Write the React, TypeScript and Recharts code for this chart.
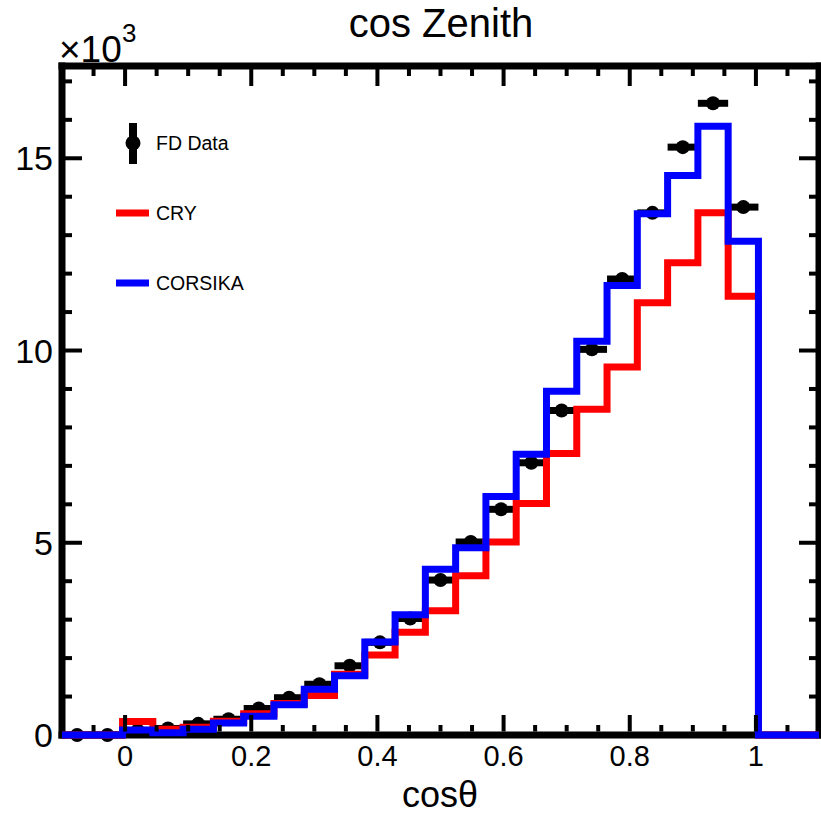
import {
  ComposedChart,
  Line,
  Scatter,
  XAxis,
  YAxis,
  ErrorBar,
  Legend,
} from "recharts";

const FONT = "'Liberation Sans', Arial, Helvetica, sans-serif";

// histogram binning: 25 bins over [-0.1, 1.1]
const X_MIN = -0.1;
const X_MAX = 1.1;
const N_BINS = 25;
const BIN_WIDTH = (X_MAX - X_MIN) / N_BINS;
const Y_MAX = 17400;

// entries per bin (null = empty bin, no marker)
const fdData = [
  0, 0, 120, 170, 290, 410, 690, 970, 1320, 1800, 2410, 3030, 4030, 5020,
  5870, 7080, 8440, 10030, 11860, 13580, 15290, 16430, 13730, null, null,
];
const cry = [
  0, 0, 350, 150, 200, 360, 550, 820, 1030, 1580, 2080, 2670, 3230, 4140,
  5020, 6020, 7320, 8470, 9570, 11240, 12280, 13580, 11410, 0, 0,
];
const corsika = [
  0, 0, 130, 60, 150, 310, 490, 790, 1190, 1540, 2420, 3130, 4310, 4870,
  6200, 7300, 8940, 10240, 11690, 13560, 14550, 15830, 12840, 0, 0,
];

const SERIES = {
  data: { name: "FD Data", color: "#000000" },
  cry: { name: "CRY", color: "#ff0000" },
  corsika: { name: "CORSIKA", color: "#0000ff" },
};

const xMajor = [0, 0.2, 0.4, 0.6, 0.8, 1];
const xMinor = [
  -0.05, 0.05, 0.1, 0.15, 0.25, 0.3, 0.35, 0.45, 0.5, 0.55, 0.65, 0.7, 0.75,
  0.85, 0.9, 0.95, 1.05,
];
const yMajor = [0, 5000, 10000, 15000];
const yMinor = [
  1000, 2000, 3000, 4000, 6000, 7000, 8000, 9000, 11000, 12000, 13000, 14000,
  16000, 17000,
];

const edge = (i: number) => X_MIN + i * BIN_WIDTH;

// step outline: one point per lower bin edge, plus the closing upper edge
const toSteps = (vals: number[]) => [
  ...vals.map((y, i) => ({ x: edge(i), y })),
  { x: X_MAX, y: vals[vals.length - 1] },
];

const fdPoints = fdData
  .map((y, i) => ({ x: edge(i) + BIN_WIDTH / 2, y, xErr: BIN_WIDTH / 2 }))
  .filter((p) => p.y !== null);

// frame geometry (pixels)
const W = 821;
const H = 816;
const PLOT = { left: 62, top: 66, right: 819, bottom: 735 };
const THIN = 0.01;

const frame = { stroke: "#000", strokeWidth: 7, strokeLinecap: "square" as const };

// inward ticks on all four sides
const MAJOR = 20;
const MINOR = 10;
const sx = (v: number) =>
  PLOT.left + ((v - X_MIN) / (X_MAX - X_MIN)) * (PLOT.right - PLOT.left);
const sy = (v: number) =>
  PLOT.bottom - (v / Y_MAX) * (PLOT.bottom - PLOT.top);

const xTickList = [
  ...xMajor.map((v) => ({ v, len: MAJOR })),
  ...xMinor.map((v) => ({ v, len: MINOR })),
];
// the zero tick sits on the bottom frame line
const yTickList = [
  ...yMajor.filter((v) => v > 0).map((v) => ({ v, len: MAJOR })),
  ...yMinor.map((v) => ({ v, len: MINOR })),
];

const SideTicks = () => (
  <g stroke="#000" strokeWidth={4}>
    {xTickList.map(({ v, len }) => (
      <line key={`t${v}`} x1={sx(v)} x2={sx(v)} y1={PLOT.top} y2={PLOT.top + len} />
    ))}
    {yTickList.map(({ v, len }) => (
      <g key={`y${v}`}>
        <line x1={PLOT.left} x2={PLOT.left + len} y1={sy(v)} y2={sy(v)} />
        <line x1={PLOT.right} x2={PLOT.right - len} y1={sy(v)} y2={sy(v)} />
      </g>
    ))}
  </g>
);

const BottomTicks = () => (
  <g stroke="#000" strokeWidth={4}>
    {xTickList.map(({ v, len }) => (
      <line key={`b${v}`} x1={sx(v)} x2={sx(v)} y1={PLOT.bottom - 3.5} y2={PLOT.bottom - len} />
    ))}
  </g>
);

const DataMarker = (p: any) => <circle cx={p.cx} cy={p.cy} r={7} fill="#000" />;

const legendRows = [SERIES.data, SERIES.cry, SERIES.corsika];

const LegendBox = () => (
  <svg width={300} height={320} style={{ display: "block" }}>
    {legendRows.map((s, i) => {
      const cy = 143 + i * 70;
      return (
        <g key={s.name}>
          {i === 0 ? (
            <g>
              <line x1={133} x2={133} y1={cy - 20} y2={cy + 21} stroke={s.color} strokeWidth={8} />
              <circle cx={133} cy={cy} r={7.5} fill={s.color} />
            </g>
          ) : (
            <line x1={116} x2={149} y1={cy} y2={cy} stroke={s.color} strokeWidth={7} />
          )}
          <text x={156} y={cy + 7} fontSize={19.5} fontFamily={FONT} fill="#000">
            {s.name}
          </text>
        </g>
      );
    })}
  </svg>
);

const layer = { position: "absolute" as const, left: 0, top: 0 };

export default function App() {
  return (
    <div style={{ ...layer, width: W, height: H, background: "#fff" }}>
      <svg width={W} height={H} style={layer}>
        <SideTicks />
      </svg>
      <div style={layer}>
        <ComposedChart
          width={W}
          height={H}
          margin={{
            top: PLOT.top - THIN,
            right: W - PLOT.right - THIN,
            bottom: H - PLOT.bottom - THIN,
            left: PLOT.left - THIN,
          }}
        >
          <XAxis
            xAxisId="b"
            type="number"
            dataKey="x"
            domain={[X_MIN, X_MAX]}
            ticks={xMajor}
            interval={0}
            height={THIN}
            tickSize={0}
            tickMargin={10.4}
            tickLine={false}
            axisLine={frame}
            tick={{ fontSize: 29, fill: "#000", fontFamily: FONT }}
          />
          <XAxis
            xAxisId="t"
            orientation="top"
            type="number"
            dataKey="x"
            domain={[X_MIN, X_MAX]}
            height={THIN}
            tickLine={false}
            axisLine={frame}
            tick={false}
          />
          <YAxis
            yAxisId="l"
            type="number"
            domain={[0, Y_MAX]}
            ticks={yMajor}
            interval={0}
            width={THIN}
            tickSize={0}
            tickMargin={9}
            tickLine={false}
            axisLine={frame}
            tickFormatter={(v: number) => String(v / 1000)}
            tick={{ fontSize: 34, fill: "#000", fontFamily: FONT }}
          />
          <YAxis
            yAxisId="r"
            orientation="right"
            type="number"
            domain={[0, Y_MAX]}
            width={THIN}
            tickLine={false}
            axisLine={frame}
            tick={false}
          />
          <Legend
            layout="horizontal"
            verticalAlign="middle"
            align="center"
            wrapperStyle={{ left: 0, top: 0, width: 300, height: 320 }}
            content={LegendBox}
          />
          <Scatter
            name={SERIES.data.name}
            xAxisId="b"
            yAxisId="l"
            data={fdPoints}
            dataKey="y"
            fill={SERIES.data.color}
            shape={DataMarker}
            zIndex={550}
            isAnimationActive={false}
          >
            <ErrorBar
              dataKey="xErr"
              direction="x"
              width={0}
              stroke={SERIES.data.color}
              strokeWidth={7}
              zIndex={550}
            />
          </Scatter>
          <Line
            name={SERIES.cry.name}
            xAxisId="b"
            yAxisId="l"
            data={toSteps(cry)}
            dataKey="y"
            type="stepAfter"
            stroke={SERIES.cry.color}
            strokeWidth={7}
            dot={false}
            activeDot={false}
            zIndex={600}
            isAnimationActive={false}
          />
          <Line
            name={SERIES.corsika.name}
            xAxisId="b"
            yAxisId="l"
            data={toSteps(corsika)}
            dataKey="y"
            type="stepAfter"
            stroke={SERIES.corsika.color}
            strokeWidth={7}
            dot={false}
            activeDot={false}
            zIndex={610}
            isAnimationActive={false}
          />
        </ComposedChart>
      </div>
      <svg width={W} height={H} style={{ ...layer, pointerEvents: "none" }} fontFamily={FONT}>
        <BottomTicks />
        <text x={441} y={37} textAnchor="middle" fontSize={40}>
          cos Zenith
        </text>
        <text x={59} y={62} fontSize={37}>
          ×10
        </text>
        <text x={122} y={42} fontSize={26}>
          3
        </text>
        <text x={440} y={807} textAnchor="middle" fontSize={36}>
          cosθ
        </text>
      </svg>
    </div>
  );
}
